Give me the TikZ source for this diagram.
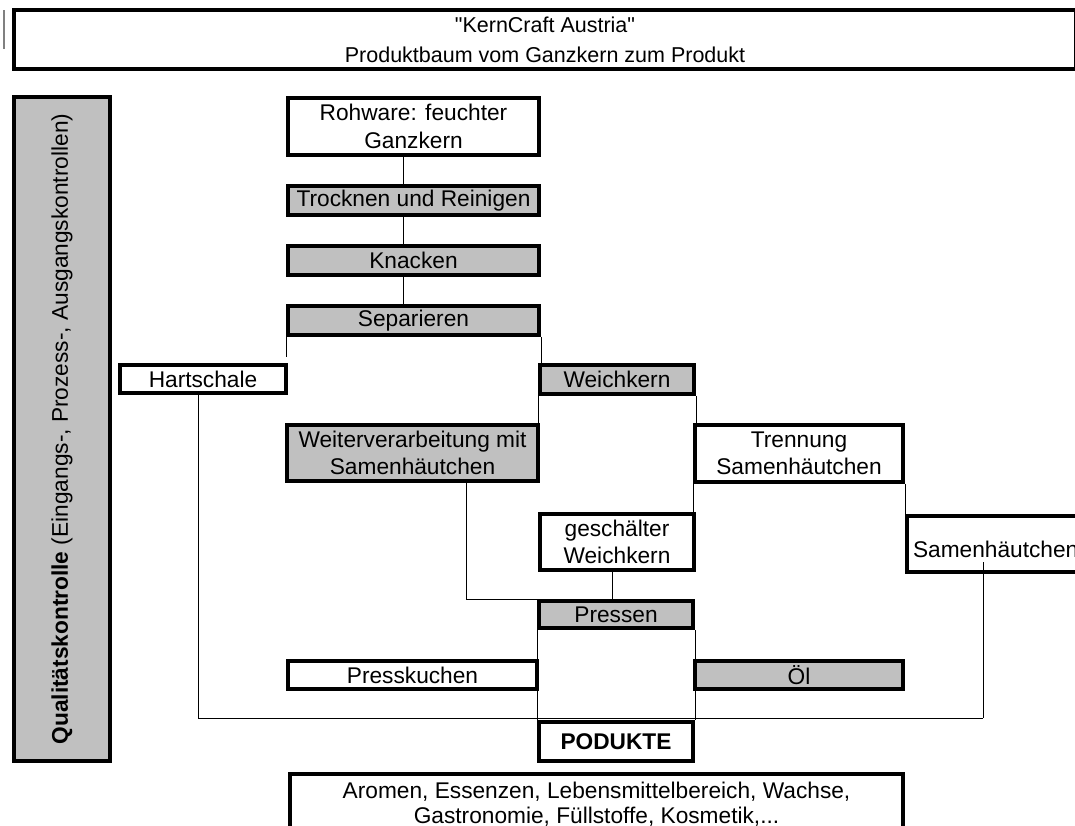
\documentclass[tikz,border=0pt]{standalone}
\usepackage{fontspec}
\setmainfont{Liberation Sans}
\newfontfamily\plainsans{Liberation Sans}
\definecolor{boxgray}{HTML}{C0C0C0}
\begin{document}
\begin{tikzpicture}[x=1pt,y=-1pt,
  base/.style={font=\fontsize{22.7}{27.5}\selectfont, align=center, inner sep=0pt, line width=4pt, draw=black},
  wbox/.style={base, fill=white},
  gbox/.style={base, fill=boxgray},
  conn/.style={draw=black, line width=1pt}]
\clip (0,0) rectangle (1075,825);
\fill[white] (0,0) rectangle (1075,825);
\draw[gray, line width=1.5pt] (4,10) -- (4,49);

% title and side bar
\node[wbox, minimum width=1062pt, minimum height=59pt, font=\fontsize{21.5}{30}\selectfont\plainsans] (title) at (545,39.5) {"KernCraft Austria"\\Produktbaum vom Ganzkern zum Produkt};
\node[gbox, rotate=90, minimum width=664pt, minimum height=96pt] (qk) at (62,429) {\textbf{Qualitätskontrolle} (Eingangs-, Prozess-, Ausgangskontrollen)};

% process nodes
\node[wbox, minimum width=251pt, minimum height=57pt] (roh) at (413.5,126.5) {Rohware: feuchter\\Ganzkern};
\node[gbox, minimum width=251pt, minimum height=29pt] (trock) at (413.5,200.5) {Trocknen und Reinigen};
\node[gbox, minimum width=251pt, minimum height=29pt] (knack) at (413.5,260.5) {Knacken};
\node[gbox, minimum width=251pt, minimum height=29pt] (sep) at (413.5,320.5) {Separieren};
\node[wbox, minimum width=166pt, minimum height=28pt] (hart) at (203,379) {Hartschale};
\node[gbox, minimum width=154pt, minimum height=29pt] (weich) at (617,379.5) {Weichkern};
\node[gbox, minimum width=251pt, minimum height=56pt] (weiter) at (412.5,453) {Weiterverarbeitung mit\\Samenhäutchen};
\node[wbox, minimum width=208pt, minimum height=57pt] (trenn) at (799,453.5) {Trennung\\Samenhäutchen};
\node[wbox, minimum width=154pt, minimum height=56pt] (gesch) at (617,542) {geschälter\\Weichkern};
\node[wbox, anchor=north west, minimum width=200pt, minimum height=56pt, align=left, text width=188pt, inner xsep=6pt] (samen) at (905,514) {\mbox{}\\Samenhäutchen};
\node[gbox, minimum width=154pt, minimum height=27pt] (pressen) at (616,614.5) {Pressen};
\node[wbox, minimum width=249pt, minimum height=28pt] (kuchen) at (412.5,675) {Presskuchen};
\node[gbox, minimum width=208pt, minimum height=28pt] (oel) at (799,675) {Öl};
\node[wbox, minimum width=154pt, minimum height=39pt] (prod) at (616,741.5) {\textbf{PODUKTE}};
\node[wbox, anchor=north, minimum width=613pt, minimum height=60pt, font=\fontsize{22.7}{25}\selectfont] (aromen) at (596.5,772) {Aromen, Essenzen, Lebensmittelbereich, Wachse,\\Gastronomie, Füllstoffe, Kosmetik,...};

% helper coordinates
\coordinate (xa) at (403,0);
\coordinate (xw) at (466,0);
\coordinate (xg) at (612,0);
\coordinate (busL) at (198,718);
\coordinate (busR) at (983,718);
\coordinate (samenstub) at (983,562);
\coordinate (hartstub) at ([yshift=6pt]hart.north east);

% connectors
\draw[conn] (roh.south -| xa) -- (trock.north -| xa);
\draw[conn] (trock.south -| xa) -- (knack.north -| xa);
\draw[conn] (knack.south -| xa) -- (sep.north -| xa);
\draw[conn] (sep.south west) -- (sep.south west |- hartstub);
\draw[conn] (sep.south east) -- (sep.south east |- weich.north);
\draw[conn] (weich.south west) -- (weich.south west |- weiter.north);
\draw[conn] (weich.south east) -- (weich.south east |- trenn.north);
\draw[conn] (trenn.south west) -- (trenn.south west |- gesch.north);
\draw[conn] (trenn.south east) -- (trenn.south east |- samen.north);
\draw[conn] (weiter.south -| xw) |- (pressen.north west);
\draw[conn] (gesch.south -| xg) -- (pressen.north -| xg);
\draw[conn] (pressen.south west) -- (pressen.south west |- prod.north);
\draw[conn] (pressen.south east) -- (pressen.south east |- prod.north);
\draw[conn] (hart.south -| busL) -- (busL) -- (busR);
\draw[conn] (samenstub) -- (busR);
\end{tikzpicture}
\end{document}
